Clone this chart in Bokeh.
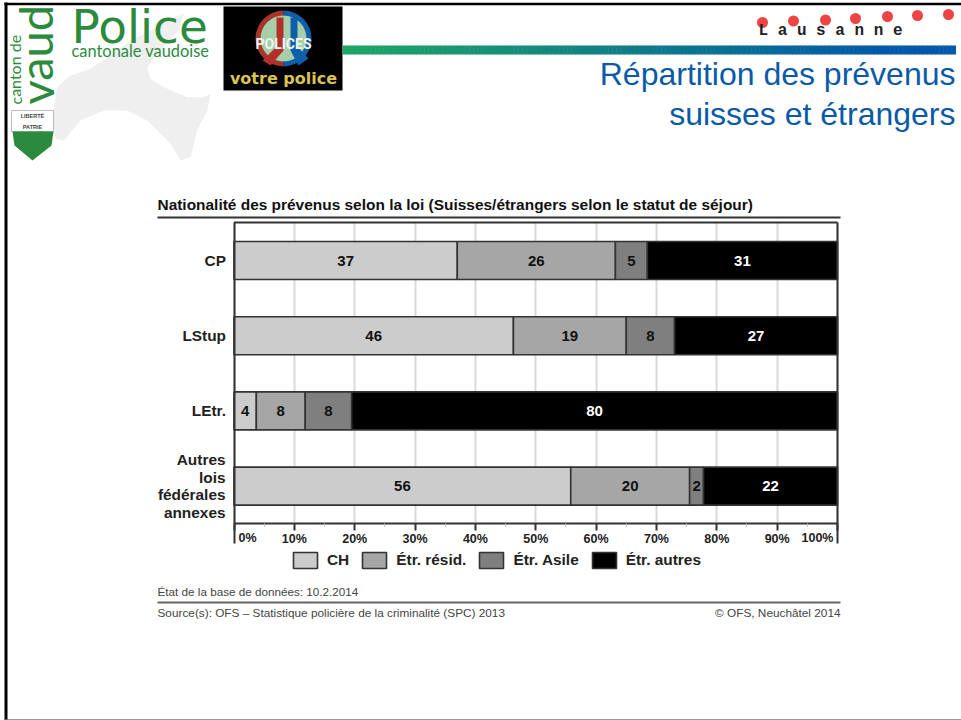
from bokeh.embed import file_html
from bokeh.resources import INLINE
from bokeh.plotting import figure
from bokeh.models import Range1d, FixedTicker, Legend, LegendItem
from bokeh.core.properties import value

# ---- data
categories = ["CP", "LStup", "LEtr.", "Autres\nlois\nfédérales\nannexes"]
series_names = ["CH", "Étr. résid.", "Étr. Asile", "Étr. autres"]
ch = [37.0, 46.3, 3.7, 55.8]
resid = [26.2, 18.7, 8.1, 19.7]
asile = [5.3, 8.0, 7.7, 2.3]
autres = [31.49, 27.0, 80.49, 22.2]
series = [ch, resid, asile, autres]
fills = ["#cccccc", "#a6a6a6", "#7f7f7f", "#000000"]
text_cols = ["#111111", "#111111", "#111111", "#ffffff"]
pct_ticks = [0, 10, 20, 30, 40, 50, 60, 70, 80, 90, 100]
minor_pct = [5, 15, 25, 35, 45, 55, 65, 75, 85, 95]

# ---- layout: where the chart's scales sit on the page
W, H = 961, 720
X0, PX_PER_PCT = 233.5, 6.035
Y0, PX_PER_CAT = 260.0, 75.2
xp = lambda px: (px - X0) / PX_PER_PCT
yp = lambda py: (py - Y0) / PX_PER_CAT

p = figure(width=W, height=H, output_backend="svg", toolbar_location=None,
           x_range=Range1d(xp(0), xp(W)), y_range=Range1d(yp(H), yp(0)),
           min_border=0, min_border_left=0, min_border_right=0,
           min_border_top=0, min_border_bottom=0, background_fill_color="white",
           outline_line_color=None,
           styles={"position": "absolute", "left": "0px", "top": "0px"})
p.extra_x_ranges["page"] = Range1d(0, W)
p.extra_y_ranges["page"] = Range1d(H, 0)
PAGE = dict(x_range_name="page", y_range_name="page")

SANS = "Liberation Sans"


def txt(x, y, s, size, color="#222222", font=SANS, style="normal", align="left", angle=0.0,
        baseline="middle"):
    p.text(x=[x], y=[y], text=[s], text_font=value(font), text_font_size=f"{size}px",
           text_color=color, text_font_style=style, text_align=align, angle=angle,
           text_baseline=baseline, **PAGE)


# page frame
p.quad(left=[4], right=[7], top=[2], bottom=[720], fill_color="#000000", line_color=None, **PAGE)
p.quad(left=[4], right=[961], top=[2.3], bottom=[4.7], fill_color="#000000", line_color=None, **PAGE)
p.quad(left=[4], right=[961], top=[718.8], bottom=[720], fill_color="#777777", line_color=None, **PAGE)

# map watermark
map_x = [170, 210, 270, 330, 390, 450, 520, 550, 535, 480, 440, 450, 490, 560, 610, 630, 620, 590, 570,
         540, 510, 440, 380, 310, 240, 190, 165, 155]
map_y = [260, 225, 205, 165, 120, 90, 50, 40, 90, 150, 200, 235, 260, 290, 290, 280, 330, 390, 470, 480,
         430, 360, 330, 330, 360, 420, 415, 350]
p.patch([v / 3 for v in map_x], [v / 3 for v in map_y], fill_color="#efefef", line_color=None, **PAGE)

# Vaud logo
GREEN = "#2b8a3c"
txt(71, 26, "Police", 47, GREEN, "DejaVu Sans")
txt(71, 50, "cantonale vaudoise", 16.4, GREEN, "Lato")
txt(35, 104, "vaud", 47, GREEN, "Lato", angle=1.5708)
txt(14.5, 104, "canton de", 16, GREEN, "Lato", angle=1.5708)
p.quad(left=[11], right=[53], top=[110], bottom=[131], fill_color="#ffffff", line_color="#bbbbbb", **PAGE)
txt(32, 115, "LIBERTÉ", 5.5, "#444444", style="bold", align="center")
txt(32, 126, "PATRIE", 5.5, "#444444", style="bold", align="center")
p.patch([12, 53, 51, 32, 14], [131, 131, 145, 160, 145], fill_color=GREEN, line_color=None, **PAGE)

# "votre police" badge
p.quad(left=[223], right=[342], top=[6], bottom=[90], fill_color="#000000", line_color=None, **PAGE)
p.wedge(x=[283], y=[38], radius=28, start_angle=1.5708, end_angle=4.7124, fill_color="#a8352c",
        line_color=None, **PAGE)
p.wedge(x=[283], y=[38], radius=28, start_angle=4.7124, end_angle=1.5708, fill_color="#0f5fa8",
        line_color=None, **PAGE)
p.circle(x=[283], y=[38], radius=23, fill_color="#a5cfa8", line_color=None, **PAGE)
p.patch([276, 283, 283, 270, 262, 276], [17, 17, 50, 65, 60, 46], fill_color="#b3302a", line_color=None, **PAGE)
p.patch([290, 297, 297, 308, 298, 290], [17, 17, 46, 58, 65, 50], fill_color="#0f5fa8", line_color=None, **PAGE)
txt(283, 43, "POLICES", 14, "#f4f4f4", "Roboto", "bold", "center")
txt(283, 78, "votre police", 16, "#d9c356", "DejaVu Sans", "bold", "center")

# banner
steps = 150
bl, c0, c1 = 342, (31, 166, 100), (0, 88, 170)
step = (955 - bl) / steps
for i in range(steps):
    t = min(1.0, i / (steps - 1) * 1.1)
    col = "#%02x%02x%02x" % tuple(int(a + (b - a) * t) for a, b in zip(c0, c1))
    p.quad(left=[bl + i * step], right=[bl + (i + 1) * step + 0.5], top=[45], bottom=[54],
           fill_color=col, line_color=None, **PAGE)

dots_x = [762, 793, 825, 855, 887, 917, 948]
dots_y = [22, 20.5, 19.5, 18, 16, 15, 14]
p.circle(x=dots_x, y=dots_y, radius=5.5, fill_color="#ee4444", line_color=None, **PAGE)
txt(758, 30, "L a u s a n n e", 16, "#222222", "Liberation Mono", "bold")

BLUE = "#0a5aa8"
txt(955, 73.5, "Répartition des prévenus", 32, BLUE, align="right")
txt(955, 113, "suisses et étrangers", 32, BLUE, align="right")

# chart heading
txt(157, 204, "Nationalité des prévenus selon la loi (Suisses/étrangers selon le statut de séjour)",
    15.45, "#111111", style="bold")
p.segment([157], [217], [840], [217], line_color="#333333", line_width=2, **PAGE)

# grid
p.xgrid.grid_line_color = "#d9d9d9"
p.xgrid.grid_line_width = 2
p.xgrid.cross_bounds = (yp(222), yp(522))
p.ygrid.visible = False

# stacked bars
rows = list(range(len(categories)))
renderers = []
lefts = [0.0] * len(rows)
for vals, fill, tc in zip(series, fills, text_cols):
    rights = [a + b for a, b in zip(lefts, vals)]
    r = p.hbar(y=rows, left=lefts, right=rights, height=38 / PX_PER_CAT, fill_color=fill,
               line_color="#333333", line_width=1.6)
    renderers.append(r)
    p.text(x=[(a + b) / 2 for a, b in zip(lefts, rights)], y=rows, text=[str(round(v)) for v in vals],
           text_font=value(SANS), text_font_style="bold", text_font_size="15px", text_color=tc,
           text_align="center", text_baseline="middle")
    lefts = rights

# chart frame lines (top, right)
p.segment([233.5], [222], [837], [222], line_color="#333333", line_width=2, **PAGE)
p.segment([837], [222], [837], [543], line_color="#333333", line_width=2, **PAGE)

# axes
xa = p.xaxis[0]
xa.fixed_location = yp(522.7)
xa.bounds = (0, 100)
xa.ticker = FixedTicker(ticks=pct_ticks, minor_ticks=minor_pct)
xa.major_label_overrides = {t: (f"{t}%" if 0 < t < 100 else "") for t in pct_ticks}
xa.major_tick_in = 0
xa.major_tick_out = 7
xa.minor_tick_in = 0
xa.minor_tick_out = 3
xa.axis_line_color = "#333333"
xa.axis_line_width = 2
xa.major_tick_line_color = "#333333"
xa.major_tick_line_width = 2
xa.minor_tick_line_color = "#bbbbbb"
xa.major_label_text_font = SANS
xa.major_label_text_font_style = "bold"
xa.major_label_text_font_size = "12.5px"
xa.major_label_text_color = "#222222"
xa.major_label_standoff = 2

ya = p.yaxis[0]
ya.fixed_location = 0
ya.bounds = (yp(222), yp(543))
ya.ticker = FixedTicker(ticks=rows)
ya.major_label_overrides = {i: (c if "\n" not in c else "") for i, c in zip(rows, categories)}
ya.major_tick_in = 0
ya.major_tick_out = 0
ya.minor_tick_out = 0
ya.minor_tick_in = 0
ya.axis_line_color = "#333333"
ya.axis_line_width = 2
ya.major_label_text_font = SANS
ya.major_label_text_font_style = "bold"
ya.major_label_text_font_size = "15.4px"
ya.major_label_text_color = "#222222"
ya.major_label_standoff = 8

# the four-line category label is set line by line: tighter leading than an axis label has
last_lines = categories[-1].split("\n")
p.text(x=[0] * len(last_lines), y=[rows[-1]] * len(last_lines), text=last_lines, x_offset=-8.5,
       y_offset=[(i - (len(last_lines) - 1) / 2) * 17.7 for i in range(len(last_lines))],
       text_font=value(SANS), text_font_style="bold", text_font_size="15.4px", text_color="#222222",
       text_align="right", text_baseline="middle")

# end tick labels sit inside the frame
p.text(x=[0, 100], y=[yp(537.5), yp(537.5)], text=["0%", "100%"], x_offset=[13.5, -20],
       text_font=value(SANS), text_font_style="bold", text_font_size="12.5px", text_color="#222222",
       text_align="center", text_baseline="middle")

# legend
legend = Legend(items=[LegendItem(label=n, renderers=[r]) for n, r in zip(series_names, renderers)],
                orientation="horizontal", location=(290, H - 570), border_line_color=None,
                background_fill_alpha=0, padding=0, margin=0, spacing=10, label_standoff=7,
                glyph_width=30, glyph_height=20, label_text_font=SANS, label_text_font_style="bold",
                label_text_font_size="15.4px", label_text_color="#222222")
p.add_layout(legend)

# footnotes
txt(157, 591, "État de la base de données: 10.2.2014", 11.7, "#444444")
p.segment([157], [602], [840], [602], line_color="#666666", line_width=2, **PAGE)
txt(157, 612, "Source(s): OFS – Statistique policière de la criminalité (SPC) 2013", 11.8, "#444444")
txt(840, 612, "© OFS, Neuchâtel 2014", 11.8, "#444444", align="right")

open("out.html", "w").write(file_html(p, INLINE))
